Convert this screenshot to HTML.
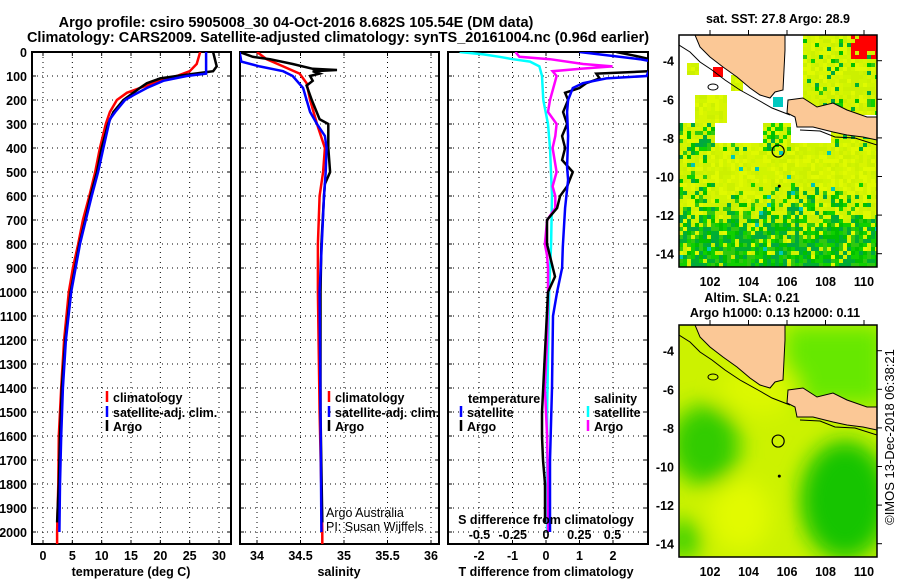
<!DOCTYPE html>
<html><head><meta charset="utf-8"><style>
html,body{margin:0;padding:0;background:#fff;}
svg{display:block;font-family:"Liberation Sans",sans-serif;}
.t{font-weight:bold;font-size:12.5px;fill:#000;}
</style></head><body>
<svg id="c" width="900" height="580" viewBox="0 0 900 580" xmlns="http://www.w3.org/2000/svg">
<defs>
<filter id="bl" x="-50%" y="-50%" width="200%" height="200%"><feGaussianBlur stdDeviation="11"/></filter>
<clipPath id="m1c"><rect x="679" y="35" width="198" height="232"/></clipPath>
<clipPath id="m2c"><rect x="679" y="325" width="198" height="232"/></clipPath>
<clipPath id="p1c"><rect x="32" y="52" width="199" height="492"/></clipPath>
<clipPath id="p2c"><rect x="240" y="52" width="199" height="492"/></clipPath>
<clipPath id="p3c"><rect x="448" y="52" width="200" height="492"/></clipPath>
</defs>
<text class="t" x="296" y="27" text-anchor="middle" style="font-size:14.5px">Argo profile: csiro 5905008_30 04-Oct-2016 8.682S 105.54E (DM data)</text>
<text class="t" x="338" y="42" text-anchor="middle" style="font-size:14.5px">Climatology: CARS2009. Satellite-adjusted climatology: synTS_20161004.nc (0.96d earlier)</text>
<g id="g"></g>
</svg>
<script>
// ---------- data ----------
const tDepth = [0,50,80,100,120,150,170,200,250,300,400,500,600,700,800,900,1000,1200,1400,1600,1800,2000,2050];
const tClim  = [26.8,26.2,25,22.8,20,16.5,14.3,12.6,11.4,10.7,9.7,8.9,7.9,6.8,6.0,5.1,4.4,3.6,3.1,2.7,2.6,2.4,2.4];
const tSatDepth = [0,90,100,120,150,180,200,250,280,400,500,600,700,800,1000,1200,1400,1600,1800,2000];
const tSat   = [27.8,27.8,24.5,20.5,17.7,15.4,14,12.3,11.4,10.3,9.4,8.3,7.3,6.3,4.8,3.9,3.4,3.1,2.9,2.8];
const tArgoDepth = [0,30,60,80,100,110,130,150,170,200,250,300,400,500,600,700,800,1000,1200,1400,1600,1800,1900,1960];
const tArgo  = [29,29.3,29.6,29,22.8,20,17.7,16.5,15.4,13.7,12,11.1,10,9.2,8.1,7.2,6.2,4.7,3.8,3.2,2.9,2.7,2.5,2.4];

const sClimDepth = [0,30,60,90,130,200,300,400,500,600,800,1000,1500,2000,2050];
const sClim  = [34.0,34.11,34.3,34.49,34.57,34.61,34.69,34.78,34.76,34.72,34.70,34.70,34.72,34.75,34.75];
const sSatDepth = [0,40,60,80,100,150,200,250,300,350,400,500,600,1000,2000];
const sSat   = [33.8,33.82,34.03,34.3,34.41,34.53,34.57,34.61,34.69,34.78,34.8,34.79,34.77,34.72,34.74];
const sArgoDepth = [0,20,30,50,70,75,80,90,100,120,140,200,280,300,400,500,550,600,800,1000,1500,1960];
const sArgo  = [33.8,33.95,34.15,34.41,34.64,34.92,34.64,34.72,34.61,34.64,34.57,34.63,34.72,34.82,34.82,34.84,34.78,34.77,34.74,34.73,34.73,34.75];

const dTSatDepth = [0,30,40,100,110,130,150,200,250,350,480,533,650,812,900,1000,1100,1400,1700,2000];
const dTSat  = [1.0,2.8,3.2,3.0,1.8,1.1,0.8,0.66,0.63,0.66,0.63,0.66,0.57,0.5,0.48,0.33,0.21,0.18,0.12,0.12];
const dTArgoDepth = [0,20,30,80,90,110,130,150,170,200,250,300,350,400,450,500,560,600,650,700,800,936,1000,1500,1600,1700,1800,1960];
const dTArgo = [2.1,2.8,3.1,3.1,1.5,1.6,1.2,1.0,0.57,0.66,0.51,0.63,0.48,0.57,0.48,0.8,0.63,0.42,0.33,0.03,0.03,0.27,0.06,-0.12,-0.12,-0.09,-0.03,-0.03];
const dSArgoDepth = [0,20,30,50,60,70,80,100,120,200,250,300,350,400,500,560,600,650,700,800,850,900,1000,1200,1400,1600,1800,2000];
const dSArgo = [-0.23,-0.2,0.03,0.28,0.5,0.26,0.05,0.08,0.07,0.03,0.015,0.08,0.07,0.05,0.08,0.05,0.07,0.07,0.008,-0.008,0.008,0.015,0.015,0.008,-0.008,0.008,0.015,0.015];
const dSSatDepth = [0,10,20,30,40,60,100,200,300,400,600,800,1000,1500,2000];
const dSSat  = [-0.65,-0.47,-0.35,-0.25,-0.12,-0.05,-0.03,-0.02,0.015,0.03,0.045,0.038,0.023,0.008,0.008];

const depthTicks = [0,100,200,300,400,500,600,700,800,900,1000,1100,1200,1300,1400,1500,1600,1700,1800,1900,2000];
const tTicks = [0,5,10,15,20,25,30];
const sTicks = [34,34.5,35,35.5,36];
const sTickLabels = ["34","34.5","35","35.5","36"];
const dTTicks = [-2,-1,0,1,2];
const dSTicks = [-0.5,-0.25,0,0.25,0.5];
const dSTickLabels = ["-0.5","-0.25","0","0.25","0.5"];
const latTicks = [-4,-6,-8,-10,-12,-14];
const lonTicks = [102,104,106,108,110];
const argoPos = [105.54,-8.682];

// ---------- helpers ----------
const NS="http://www.w3.org/2000/svg";
const G=document.getElementById('g');
function mk(tag,attrs,parent){const e=document.createElementNS(NS,tag);for(const k in attrs)e.setAttribute(k,attrs[k]);(parent||G).appendChild(e);return e;}
function txt(x,y,s,anchor,parent,extra){const e=mk('text',Object.assign({x:x,y:y,'class':'t','text-anchor':anchor||'start'},extra||{}),parent);e.textContent=s;return e;}
const yD = d => 52 + d*0.24;
const xT = v => 43 + v*5.867;
const xS = v => 257 + (v-34)*87;
const xdT = v => 546 + v*33.5;
const xdS = v => 546 + v*133;
const mx = lon => 710 + (lon-102)*19.25;
const my1 = lat => 60.7 + (-4-lat)*19.3;
const my2 = lat => 350.7 + (-4-lat)*19.3;

function panel(x0,x1,xticks,xfun,labels,name){
  const g=mk('g',{});
  
  
  depthTicks.forEach(d=>{
    const l=mk('line',{x1:x0,x2:x1,y1:yD(d),y2:yD(d),stroke:'#000','stroke-width':1,'stroke-dasharray':'1,4'},g);
    
    
    mk('line',{x1:x0,x2:x0+4,y1:yD(d),y2:yD(d),stroke:'#000'},g);
    mk('line',{x1:x1-4,x2:x1,y1:yD(d),y2:yD(d),stroke:'#000'},g);
  });
  xticks.forEach((v,i)=>{
    const x=xfun(v);
    const l=mk('line',{x1:x,x2:x,y1:52,y2:544,stroke:'#000','stroke-width':1,'stroke-dasharray':'1,4'},g);
    
    
    mk('line',{x1:x,x2:x,y1:540,y2:544,stroke:'#000'},g);
    mk('line',{x1:x,x2:x,y1:52,y2:56,stroke:'#000'},g);
    if(labels){const t=txt(x,560,labels[i],'middle',g);
      
      }
  });
  const r=mk('rect',{x:x0,y:52,width:x1-x0,height:492,fill:'none',stroke:'#000','stroke-width':2},g);
  
  
  return g;
}
function line(depths,vals,xf,color,clip,name,w){
  const pts=depths.map((d,i)=>xf(vals[i]).toFixed(1)+','+yD(d).toFixed(1)).join(' ');
  const p=mk('polyline',{points:pts,fill:'none',stroke:color,'stroke-width':w||2.5,'clip-path':'url(#'+clip+')'});
  
  
}
function legend(x,y,color,label,parent){
  const l=mk('line',{x1:x,x2:x,y1:y-6,y2:y+5,stroke:color,'stroke-width':2.5});
  
  
  const t=txt(x+6,y+5,label,'start');
  
  
}

// ---------- panels ----------
panel(32,231,tTicks,xT,tTicks.map(String),'temperature-panel');
panel(240,439,sTicks,xS,sTickLabels,'salinity-panel');
panel(448,648,dTTicks,xdT,dTTicks.map(String),'difference-panel');
depthTicks.forEach(d=>{const t=txt(27,yD(d)+5,String(d),'end');
  
  });

let xl=txt(131,576,'temperature (deg C)','middle');


xl=txt(339,576,'salinity','middle');


xl=txt(546,576,'T difference from climatology','middle');



// series
line(tDepth,tClim,xT,'#ff0000','p1c','temp-climatology-line');
line(tArgoDepth,tArgo,xT,'#000000','p1c','temp-argo-line');
line(tSatDepth,tSat,xT,'#0000ff','p1c','temp-satellite-line');
line(sClimDepth,sClim,xS,'#ff0000','p2c','sal-climatology-line');
line(sArgoDepth,sArgo,xS,'#000000','p2c','sal-argo-line');
line(sSatDepth,sSat,xS,'#0000ff','p2c','sal-satellite-line');
line(dSSatDepth,dSSat,xdS,'#00ffff','p3c','dsal-satellite-line');
line(dSArgoDepth,dSArgo,xdS,'#ff00ff','p3c','dsal-argo-line');
line(dTArgoDepth,dTArgo,xdT,'#000000','p3c','dtemp-argo-line');
line(dTSatDepth,dTSat,xdT,'#0000ff','p3c','dtemp-satellite-line');

// legends
legend(107,397,'#ff0000','climatology');
legend(107,412,'#0000ff','satellite-adj. clim.');
legend(107,426,'#000000','Argo');
legend(329,397,'#ff0000','climatology');
legend(329,412,'#0000ff','satellite-adj. clim.');
legend(329,426,'#000000','Argo');
let lt=txt(468,403,'temperature','start');


lt=txt(594,403,'salinity','start');


legend(461,412,'#0000ff','satellite');
legend(461,426,'#000000','Argo');
legend(588,412,'#00ffff','satellite');
legend(588,426,'#ff00ff','Argo');
lt=txt(546,524,'S difference from climatology','middle');


dSTicks.forEach((v,i)=>{const t=txt(xdS(v),539,dSTickLabels[i],'middle');
  
  });
lt=txt(326,517,'Argo Australia','start',G,{style:'font-weight:normal'});


lt=txt(326,531,'PI: Susan Wijffels','start',G,{style:'font-weight:normal'});



// ---------- maps ----------
function hash(i,j){let h=(i*374761393+j*668265263)|0;h=(h^(h>>>13))*1274126177|0;return ((h^(h>>>16))>>>0)/4294967296;}
const sumatra=[[695,35],[785,35],[785,50],[783,90],[775,92],[770,98],[760,95],[750,88],[737,77],[723,67],[710,57],[700,47]];
const java=[[788,100],[803,98],[817,107],[833,103],[847,110],[867,117],[877,117],[877,140],[863,137],[847,135],[833,132],[813,127],[797,127],[795,117],[787,113]];
function poly(pts,dy){return pts.map(p=>p[0]+','+(p[1]+dy)).join(' ');}
function drawLand(g,dy,clip){
  let p=mk('polygon',{points:poly(sumatra,dy),fill:'#fbc896',stroke:'#000','stroke-width':1,'clip-path':'url(#'+clip+')'},g);
  
  
  p=mk('polygon',{points:poly(java,dy),fill:'#fbc896',stroke:'#000','stroke-width':1,'clip-path':'url(#'+clip+')'},g);
  
  
  mk('polyline',{points:poly([[679,45],[690,52],[700,62],[712,70],[725,80],[740,90],[758,100],[772,108],[790,115]],dy),fill:'none',stroke:'#000','stroke-width':1,'clip-path':'url(#'+clip+')'},g);
  mk('polyline',{points:poly([[800,130],[820,131],[835,137],[855,138],[877,145]],dy),fill:'none',stroke:'#000','stroke-width':1,'clip-path':'url(#'+clip+')'},g);
  mk('ellipse',{cx:713,cy:87+dy,rx:5,ry:3,fill:'none',stroke:'#000'},g);
  const c=mk('circle',{cx:mx(argoPos[0]),cy:(dy?my2:my1)(argoPos[1]),r:6,fill:'none',stroke:'#000','stroke-width':1.2},g);
  
  
  mk('circle',{cx:mx(105.6),cy:(dy?my2:my1)(-10.5),r:1.5,fill:'#000'},g);
}
function mapAxes(g,y0,myf){
  mk('rect',{x:679,y:y0,width:198,height:232,fill:'none',stroke:'#000','stroke-width':1.5},g);
  latTicks.forEach(l=>{const y=myf(l);
    mk('line',{x1:877,x2:882,y1:y,y2:y,stroke:'#000'},g);
    const t=txt(674,y+5,String(l),'end',g);
    
    });
  lonTicks.forEach(l=>{const x=mx(l);
    mk('line',{x1:x,x2:x,y1:y0-5,y2:y0,stroke:'#000'},g);
    const t=txt(x,y0+251,String(l),'middle',g);
    
    });
}
// SST map
const m1=mk('g',{'clip-path':'url(#m1c)'});


mk('rect',{x:679,y:35,width:198,height:232,fill:'#fff'},m1);
const yel=['#d8f500','#ccf000','#e0fa00','#d0f400'],grn=['#00c000','#00b030','#10d000','#30c810','#00a840'];
for(let i=0;i<50;i++)for(let j=0;j<58;j++){
  const x=679+i*4,y=35+j*4,h=hash(i,j),h2=hash(j+77,i+13);
  let col=null;
  if(x>=801&&y<115){col=h<0.15?grn[(h2*5)|0]:yel[(h2*4)|0]; if(x>850&&y<57&&h2<0.8)col='#ff0000';}
  else if(y<120){ if((x>=692&&x<724&&y>=92)||(x>=728&&x<740&&y>=75&&y<88)||(x>=686&&x<698&&y>=60&&y<73)) col=yel[(h2*4)|0]; }
  else if(y<150){ if(x<713) col=h<0.4?grn[(h2*5)|0]:yel[(h2*4)|0]; else if(x<760 && y<140) col=null; else if(x>=760&&x<790) col=h<0.3?grn[(h2*5)|0]:yel[(h2*4)|0]; else if(x>=790&&x<830) col=(y>140)?yel[(h2*4)|0]:null; else col=h<0.15?grn[(h2*5)|0]:yel[(h2*4)|0]; }
  else { let p=Math.min(1,Math.max(0,(y-178)/55)); if(x<705&&y<200)p=Math.max(p,0.4); if(x>850&&y<215)p*=0.4; if(y>190&&x>780&&x<850)p=Math.max(p,0.7);
    col=h<p*0.85?grn[(h2*5)|0]:yel[(h2*4)|0]; if(h2>0.985)col='#00c8b4'; }
  if(col){mk('rect',{x:x,y:y,width:4,height:4,fill:col},m1);}
}
mk('rect',{x:713,y:67,width:10,height:10,fill:'#ff0000'},m1);
mk('rect',{x:773,y:97,width:10,height:10,fill:'#00c8c0'},m1);
drawLand(m1,0,'m1c');
const a1=mk('g',{});


mapAxes(a1,35,my1);
let mt=txt(778,23,'sat. SST: 27.8 Argo: 28.9','middle');


// SLA map
const m2=mk('g',{'clip-path':'url(#m2c)'});


mk('rect',{x:679,y:325,width:198,height:232,fill:'#ccf200'},m2);
const bg=mk('g',{filter:'url(#bl)'},m2);
mk('rect',{x:785,y:325,width:100,height:80,fill:'#66e800'},bg);
mk('ellipse',{cx:705,cy:445,rx:35,ry:40,fill:'#30cc00'},bg);
mk('ellipse',{cx:845,cy:500,rx:45,ry:60,fill:'#18c400'},bg);
mk('ellipse',{cx:683,cy:540,rx:18,ry:20,fill:'#40d000'},bg);
mk('ellipse',{cx:740,cy:515,rx:30,ry:35,fill:'#e2fa00'},bg);
mk('ellipse',{cx:760,cy:390,rx:40,ry:25,fill:'#dcf800'},bg);
drawLand(m2,290,'m2c');
const a2=mk('g',{});


mapAxes(a2,325,my2);
mt=txt(752,302,'Altim. SLA: 0.21','middle');


mt=txt(775,317,'Argo h1000: 0.13 h2000: 0.11','middle');


const cp=txt(0,0,'\u00A9IMOS 13-Dec-2018 06:38:21','middle',G,{transform:'translate(894,437) rotate(-90)',style:'font-weight:normal;font-size:13px'});


</script>
</body></html>
